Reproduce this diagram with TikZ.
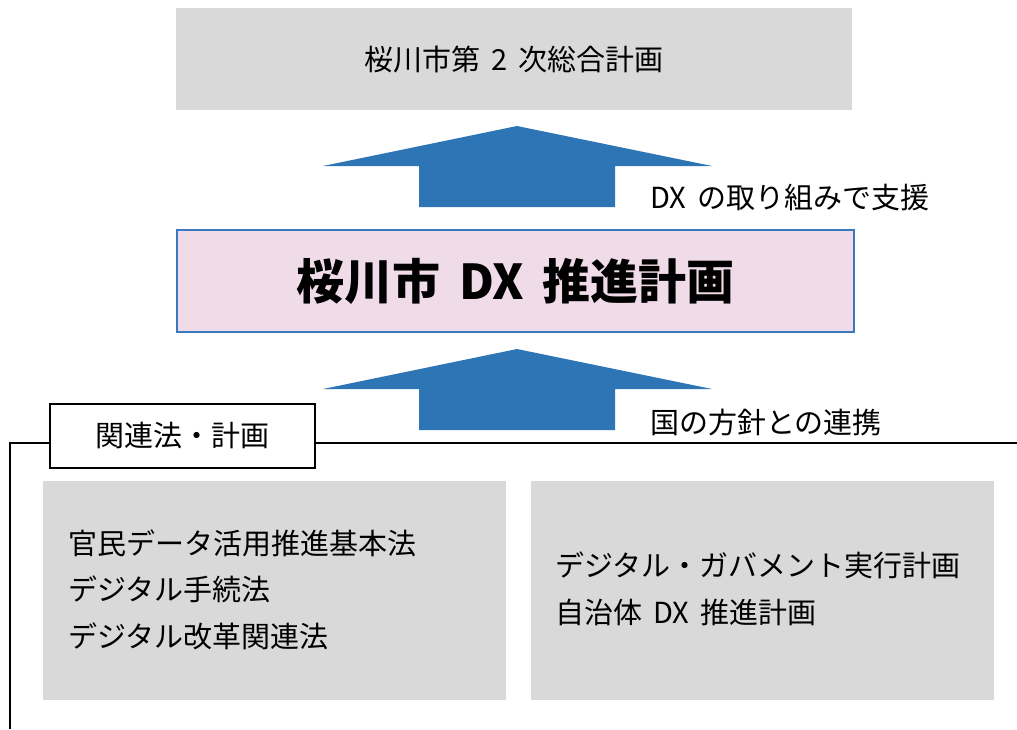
\documentclass[tikz,border=0pt]{standalone}
\usepackage{fontspec}
\setmainfont{Noto Sans CJK JP}
\definecolor{boxgray}{HTML}{D9D9D9}
\definecolor{arrowblue}{HTML}{2E75B6}
\definecolor{pinkfill}{HTML}{F0DBE8}
\definecolor{pinkborder}{HTML}{3A78C0}
\newcommand{\wsp}{\hspace{0.38em}}
\begin{document}
\begin{tikzpicture}[x=1pt,y=-1pt,
  graybox/.style={fill=boxgray, draw=none, inner sep=0pt, anchor=north west},
  txt/.style={inner sep=0pt, font=\fontsize{29}{46}\selectfont},
  bigarrow/.style={fill=arrowblue, draw=none},
  tagbox/.style={draw=black, line width=2pt, fill=white, inner sep=0pt, minimum width=265pt, minimum height=64pt, font=\fontsize{29}{34}\selectfont},
  bracket/.style={draw=black, line width=2pt}]
\useasboundingbox (0,0) rectangle (1017,729);
% bracket line
\coordinate (bl) at (10,729);
\coordinate (br) at (1017,443);
\draw[bracket] (bl) |- (br);
% top box
\node[graybox, minimum width=676pt, minimum height=102pt] (top) at (176,8) {};
\node[txt] (toptxt) at (top.center) {桜川市第\wsp{}2\wsp{}次総合計画};
% pink box
\node[graybox, fill=pinkfill, draw=pinkborder, line width=2pt, minimum width=677pt, minimum height=102pt] (dx) at (176,229) {};
\node[inner sep=0pt, font=\fontsize{48}{50}\selectfont\bfseries] (dxtxt) at (dx.center) {桜川市\wsp{}DX\wsp{}推進計画};
% arrows
\fill[bigarrow] (517,126) -- (712,166) -- (615,166) -- (615,207) -- (419,207) -- (419,166) -- (323,166) -- cycle;
\fill[bigarrow] (517,349) -- (712,389) -- (615,389) -- (615,430) -- (419,430) -- (419,389) -- (323,389) -- cycle;
\node[txt, anchor=west] (lab1) at (650,198) {DX\wsp{}の取り組みで支援};
\node[txt, anchor=west] (lab2) at (650,422) {国の方針との連携};
% tag
\node[tagbox] (tag) at (182,435.5) {関連法・計画};
% bottom boxes
\node[graybox, minimum width=463pt, minimum height=219pt] (lbox) at (43,481) {};
\node[txt, anchor=west] (l1) at (68,543) {官民データ活用推進基本法};
\node[txt, anchor=west] (l2) at (68,589) {デジタル手続法};
\node[txt, anchor=west] (l3) at (68,636) {デジタル改革関連法};
\node[graybox, minimum width=463pt, minimum height=219pt] (rbox) at (531,481) {};
\node[txt, anchor=west] (r1) at (555,565) {デジタル・ガバメント実行計画};
\node[txt, anchor=west] (r2) at (555,612) {自治体\wsp{}DX\wsp{}推進計画};
\end{tikzpicture}
\end{document}
